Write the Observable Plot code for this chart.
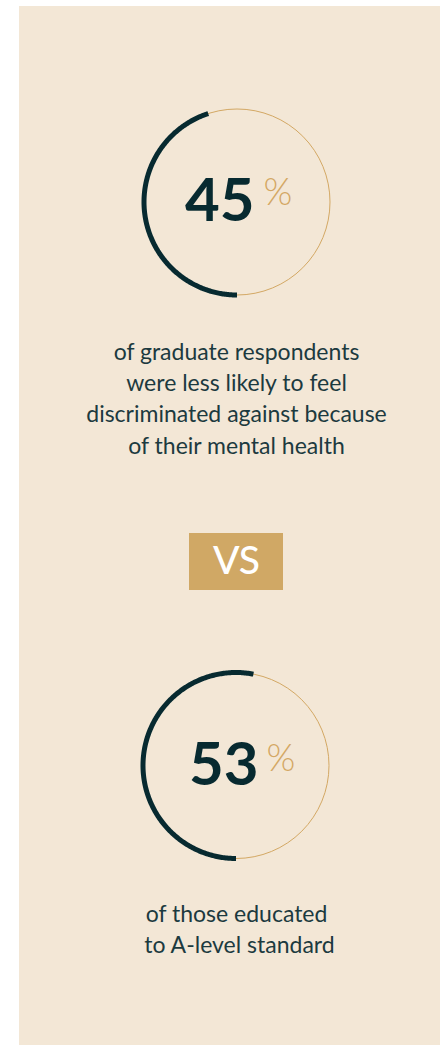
<!DOCTYPE html>
<html>
<head>
<meta charset="utf-8">
<script src="https://cdn.jsdelivr.net/npm/d3@7"></script>
<script src="https://cdn.jsdelivr.net/npm/@observablehq/plot@0.6"></script>
<style>
  html, body { margin: 0; padding: 0; background: #ffffff; }
  #chart svg { display: block; }
</style>
</head>
<body>
<div id="chart"></div>
<script>
// ---- data ----
const values = [45, 53];
const unitLabels = ["%", "%"];
const captions = [
  "of graduate respondents\nwere less likely to feel\ndiscriminated against because\nof their mental health",
  "of those educated\n to A-level standard"
];
const badgeLabel = ["VS"];

// ---- layout (pixels, identity scales) ----
const W = 440, H = 1045;
const panel = {x1: 19, x2: 440, y1: 6, y2: 1045};
const rings = [
  {cx: 236.5, cy: 201.5, numX: 254, pctX: 263, pctDy: -8.5, capY: 396.5},
  {cx: 235.5, cy: 765,   numX: 258, pctX: 266, pctDy: -6.5, capY: 927.5}
];
const R = 93;
const badgeBox = {x1: 189, x2: 283, y1: 533, y2: 590};

const dark = "#072a30";
const gold = "#d3a864";
const bg = "#f3e7d6";
const textCol = "#1c3a3f";

const blocks = values.map((v, i) => ({i, value: v, unit: unitLabels[i], caption: captions[i], ...rings[i]}));

// arc points: start at bottom, go clockwise by value% of full circle
const arcPts = blocks.flatMap(b => {
  const start = 180, end = 180 + b.value * 3.6, n = 240;
  return d3.range(n + 1).map(k => {
    const a = (start + (end - start) * k / n) * Math.PI / 180;
    return {i: b.i, x: b.cx + R * Math.sin(a), y: b.cy - R * Math.cos(a)};
  });
});

const chart = Plot.plot({
  width: W,
  height: H,
  margin: 0,
  x: {type: "identity", axis: null},
  y: {type: "identity", axis: null},
  style: {background: "#ffffff", fontFamily: "Lato, sans-serif", overflow: "visible"},
  marks: [
    Plot.rect([panel], {x1: "x1", x2: "x2", y1: "y1", y2: "y2", fill: bg}),
    Plot.dot(blocks, {x: "cx", y: "cy", r: R, stroke: gold, strokeWidth: 1, fill: "none"}),
    Plot.line(arcPts, {x: "x", y: "y", z: "i", stroke: dark, strokeWidth: 5, strokeLinecap: "butt", curve: "linear"}),
    Plot.text(blocks, {x: "numX", y: "cy", text: d => String(d.value), textAnchor: "end",
      fontSize: 60, fontWeight: 700, fill: dark, fontFamily: "Lato, sans-serif"}),
    Plot.text(blocks, {x: "pctX", y: d => d.cy + d.pctDy, text: "unit", textAnchor: "start",
      fontSize: 37, fontWeight: 300, fill: gold, fontFamily: "Lato, sans-serif"}),
    Plot.text(blocks, {x: 236, y: "capY", text: "caption", textAnchor: "middle", lineHeight: 1.35,
      fontSize: 23, fontWeight: 400, fill: textCol, fontFamily: "Lato, sans-serif",
      letterSpacing: "0.25px"}),
    Plot.rect([badgeBox], {x1: "x1", x2: "x2", y1: "y1", y2: "y2", fill: "#d0a865"}),
    Plot.text(badgeLabel, {x: 236, y: 561.5, text: d => d, textAnchor: "middle",
      fontSize: 39, fontWeight: 500, fill: "#ffffff", fontFamily: "Lato, sans-serif"})
  ]
});
document.getElementById("chart").appendChild(chart);
</script>
</body>
</html>
